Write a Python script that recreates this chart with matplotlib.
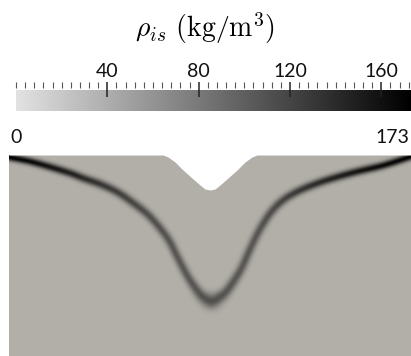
import numpy as np
import matplotlib
matplotlib.use("Agg")
import matplotlib.pyplot as plt
from matplotlib.colors import LinearSegmentedColormap, Normalize

plt.rcParams["mathtext.fontset"] = "cm"

# --- data -------------------------------------------------------------
rho_min, rho_max = 0, 173
rho_background = 36.0
major_ticks = [40, 80, 120, 160]
minor_step = 4

# centreline of the dense layer (horizontal position, height)
layer_x = [0, 24, 58, 74, 91, 108, 124, 141, 158, 168, 178, 188, 195,
           202, 209, 218, 231, 241, 251, 264, 281, 308, 341, 374, 402]
layer_z = [199, 194, 184, 178, 172, 164, 153, 139, 118, 99, 80, 65, 58,
           55, 58, 66, 86, 108, 128, 147, 161, 173, 183, 191, 200]
layer_peak = [173, 166, 150, 140, 132, 125, 118, 112, 108, 106, 106, 107,
              109, 111, 109, 107, 106, 106, 108, 114, 125, 140, 155, 167, 173]
layer_width = [2.5, 2.6, 2.8, 2.9, 3.0, 3.0, 3.1, 3.1, 3.1, 3.1, 3.2, 3.6,
               4.4, 5.4, 4.4, 3.6, 3.2, 3.1, 3.1, 3.1, 3.0, 2.9, 2.8, 2.6, 2.5]

# terrain surface (valley)
terrain_x = [0, 154, 159, 166, 174, 183, 191, 196, 201, 206, 211, 219,
             228, 236, 243, 248, 402]
terrain_z = [201, 201, 199, 194, 186, 178, 171, 167, 166, 167, 171, 178,
             186, 194, 199, 201, 201]


def catmull_rom(px, pz, n=12):
    """Smooth path through the given points."""
    p = np.column_stack([px, pz]).astype(float)
    p = np.vstack([p[0], p, p[-1]])
    out = []
    t = np.linspace(0, 1, n, endpoint=False)[:, None]
    for i in range(1, len(p) - 2):
        p0, p1, p2, p3 = p[i - 1], p[i], p[i + 1], p[i + 2]
        seg = 0.5 * ((2 * p1) + (-p0 + p2) * t
                     + (2 * p0 - 5 * p1 + 4 * p2 - p3) * t ** 2
                     + (-p0 + 3 * p1 - 3 * p2 + p3) * t ** 3)
        out.append(seg)
    out.append(p[-2][None, :])
    return np.vstack(out)


# --- field --------------------------------------------------------------
W, H = 402, 201
xs = np.linspace(0, W, 804)
zs = np.linspace(0, H, 402)
X, Z = np.meshgrid(xs, zs)
rho = np.full(X.shape, rho_background)

n_sub = 12
path = catmull_rom(layer_x, layer_z, n_sub)
s_param = np.arange(len(path)) / n_sub
peak_path = np.interp(s_param, np.arange(len(layer_peak)), layer_peak)
width_path = np.interp(s_param, np.arange(len(layer_width)), layer_width)

for i in range(len(path) - 1):
    ax_, az_ = path[i]
    dx, dz = path[i + 1] - path[i]
    L2 = dx * dx + dz * dz
    if L2 == 0:
        continue
    t = np.clip(((X - ax_) * dx + (Z - az_) * dz) / L2, 0, 1)
    d = np.hypot(X - (ax_ + t * dx), Z - (az_ + t * dz))
    peak = peak_path[i] + t * (peak_path[i + 1] - peak_path[i])
    sig = width_path[i] + t * (width_path[i + 1] - width_path[i])
    val = rho_background + (peak - rho_background) * np.exp(-0.5 * (d / sig) ** 2)
    rho = np.maximum(rho, val)

gray = LinearSegmentedColormap.from_list("gray_rho", ["#e2e2e2", "#000000"])
tinted = LinearSegmentedColormap.from_list(
    "gray_rho_lit", [(0.886, 0.871, 0.837), (0, 0, 0)])
norm = Normalize(rho_min, rho_max)

fig = plt.figure(figsize=(4.11, 3.56), dpi=100)

ax = fig.add_axes([9 / 411, 0, 402 / 411, 201 / 356])
ax.imshow(rho, cmap=tinted, norm=norm, origin="lower", extent=[0, W, 0, H],
          interpolation="bilinear", aspect="auto")
ax.fill_between(terrain_x, terrain_z, H + 5, color="white", zorder=3, lw=0)
ax.set_xlim(0, W)
ax.set_ylim(0, H)
ax.axis("off")

# --- colour bar ---------------------------------------------------------
# axes spans the tick row plus the gradient strip below it
cax = fig.add_axes([16 / 411, (356 - 111) / 356, 395 / 411, 29 / 356])
grad = np.linspace(rho_min, rho_max, 512)[None, :]
cax.imshow(grad, cmap=gray, norm=norm, extent=[rho_min, rho_max, 0, 21 / 29],
           aspect="auto")
cax.set_xlim(rho_min, rho_max)
cax.set_ylim(0, 1)
for s in cax.spines.values():
    s.set_visible(False)
cax.set_yticks([])
cax.xaxis.set_ticks_position("top")
cax.set_xticks(major_ticks)
cax.set_xticks(np.arange(rho_min, rho_max, minor_step), minor=True)
cax.tick_params(axis="x", which="major", direction="in", length=11,
                width=1.1, color="#222222", pad=1.5, labelsize=14,
                labelcolor="#111111")
cax.tick_params(axis="x", which="minor", direction="in", length=4.5,
                width=0.8, color="#555555")
for lbl in cax.get_xticklabels():
    lbl.set_fontfamily("Lato")

fig.text(10 / 411, 1 - 143 / 356, str(rho_min), ha="left", va="baseline",
         fontsize=14, family="Lato", color="#111111")
fig.text(409 / 411, 1 - 143 / 356, str(rho_max), ha="right", va="baseline",
         fontsize=14, family="Lato", color="#111111")

fig.text(205 / 411, 1 - 37 / 356, r"$\rho_{is}$ $\mathrm{(kg/m^3)}$",
         ha="center", va="baseline", fontsize=20, color="black")

fig.savefig("out.png", dpi=100, facecolor="white")
